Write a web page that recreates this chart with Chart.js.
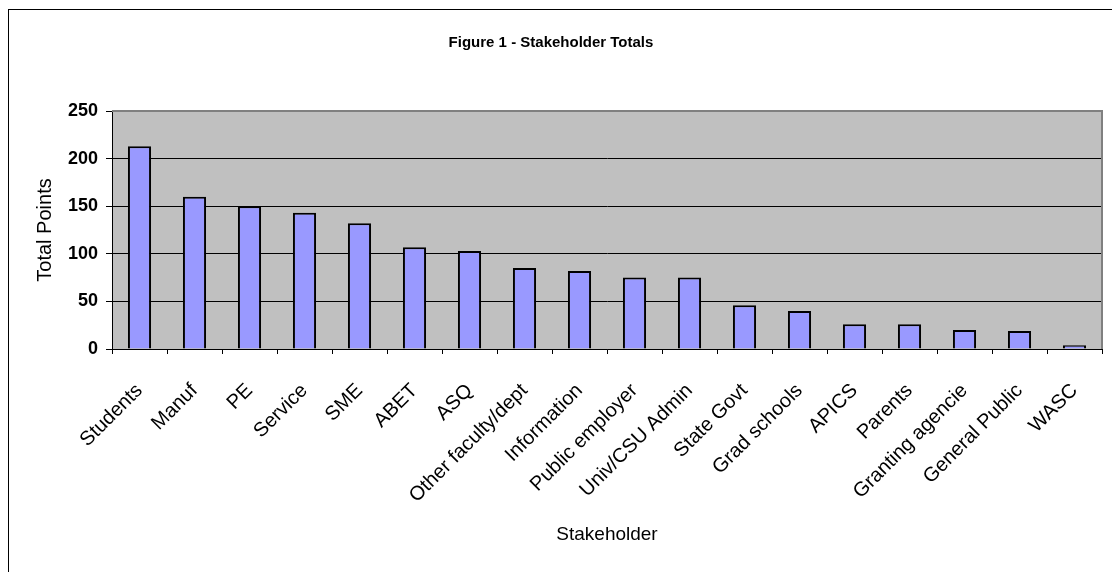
<!DOCTYPE html>
<html>
<head>
<meta charset="utf-8">
<script src="https://cdn.jsdelivr.net/npm/chart.js@4/dist/chart.umd.min.js"></script>
<style>
  html, body { margin: 0; padding: 0; background: #fff; }
  #wrap { width: 1112px; height: 572px; }
</style>
</head>
<body>
<div id="wrap"><canvas id="myChart" width="1112" height="572"></canvas></div>
<script>
var stakeholders = ['Students', 'Manuf', 'PE', 'Service', 'SME', 'ABET', 'ASQ',
  'Other faculty/dept', 'Information', 'Public employer', 'Univ/CSU Admin',
  'State Govt', 'Grad schools', 'APICS', 'Parents', 'Granting agencie',
  'General Public', 'WASC'];
var totalPoints = [213, 160, 150, 143, 132, 107, 103, 85, 82, 75, 75, 46, 40, 26, 26, 20, 19, 4];
var yTicks = [0, 50, 100, 150, 200, 250];

var fontName = '"Liberation Sans", Arial, sans-serif';

// gray plot area, outer frame, gray top/right edge of the plot
var excelLook = {
  id: 'excelLook',
  beforeDraw: function (chart) {
    var c = chart.ctx, a = chart.chartArea;
    c.save();
    c.fillStyle = '#fff';
    c.fillRect(0, 0, chart.width, chart.height);
    c.strokeStyle = '#000';
    c.lineWidth = 1;
    c.strokeRect(8.5, 9.5, chart.width + 20, chart.height + 20);
    c.fillStyle = '#c0c0c0';
    c.fillRect(a.left, a.top, a.right - a.left, a.bottom - a.top);
    c.restore();
  },
  afterDatasetsDraw: function (chart) {
    var c = chart.ctx, a = chart.chartArea;
    c.save();
    c.strokeStyle = '#808080';
    c.lineWidth = 2;
    c.beginPath();
    c.moveTo(a.left, a.top);
    c.lineTo(a.right, a.top);
    c.lineTo(a.right, a.bottom);
    c.stroke();
    c.restore();
  }
};

var ctx = document.getElementById('myChart').getContext('2d');
var chart = new Chart(ctx, {
  type: 'bar',
  data: {
    labels: stakeholders,
    datasets: [{
      label: 'Total Points',
      data: totalPoints,
      backgroundColor: '#9999ff',
      borderColor: '#000',
      borderWidth: 2,
      categoryPercentage: 1,
      barPercentage: 0.42
    }]
  },
  options: {
    responsive: false,
    animation: false,
    layout: {padding: {left: 0, right: 10, top: 0, bottom: 0}},
    plugins: {
      legend: {display: false},
      tooltip: {enabled: false},
      title: {
        display: true,
        text: 'Figure 1 - Stakeholder Totals',
        color: '#000',
        font: {family: fontName, size: 15, weight: 'bold'},
        padding: {top: 34, bottom: 59}
      }
    },
    scales: {
      x: {
        grid: {drawOnChartArea: false, drawTicks: true, tickLength: 5, color: '#000', offset: true},
        border: {color: '#000', width: 1},
        ticks: {
          color: '#000', autoSkip: false, maxRotation: 45, minRotation: 45, padding: 25,
          font: {family: fontName, size: 20}
        },
        title: {
          display: true, text: 'Stakeholder', color: '#000',
          font: {family: fontName, size: 19}, padding: {top: 4, bottom: 26}
        },
        afterFit: function (s) {
          s.height = 223;
          s.paddingLeft = 0;
          s.paddingRight = 0;
        }
      },
      y: {
        min: 0, max: 250,
        afterBuildTicks: function (s) { s.ticks = yTicks.map(function (v) { return {value: v}; }); },
        grid: {
          color: function (c) { return c.tick && c.tick.value === 250 ? '#808080' : '#000'; },
          tickColor: '#000', tickLength: 6
        },
        border: {color: '#000', width: 1},
        ticks: {
          color: '#000', padding: 8,
          font: {family: fontName, size: 18, weight: 'bold'}
        },
        title: {
          display: true, text: 'Total Points', color: '#000',
          font: {family: fontName, size: 20}, padding: {top: 33, bottom: 0}
        },
        afterFit: function (s) { s.width = 112; }
      }
    }
  },
  plugins: [excelLook]
});
</script>
</body>
</html>
